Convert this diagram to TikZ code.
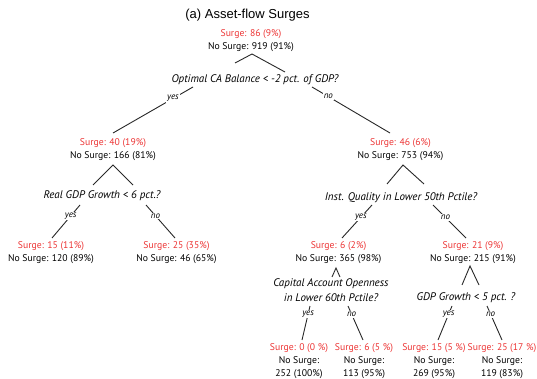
\documentclass[tikz,border=0pt]{standalone}
\usepackage{fontspec}
\setmainfont{PT Sans}
\newfontfamily\titlefont{Liberation Sans}
\usetikzlibrary{calc}
\definecolor{surgered}{RGB}{236,52,52}
\definecolor{linegray}{RGB}{40,40,40}
\tikzset{
  stat/.style={align=center,inner sep=0pt,font=\fontsize{9.7}{12.8}\selectfont},
  quest/.style={align=center,inner sep=0pt,font=\fontsize{11}{15}\selectfont\itshape},
  conn/.style={draw=linegray,line width=0.9pt},
  lab/.style={fill=white,inner sep=1pt,font=\fontsize{9}{9}\selectfont\itshape},
}
\newcommand{\sg}[1]{{\color{surgered}Surge: #1}}
\begin{document}
\begin{tikzpicture}[x=1pt,y=-1pt]
\useasboundingbox (0,0) rectangle (537,379);
\node[font=\titlefont\fontsize{13}{15}\selectfont] (title) at (247.5,15) {(a) Asset-flow Surges};
% nodes
\node[stat] (root) at (251,40.5) {\sg{86 (9\%)}\\No Surge: 919 (91\%)};
\node[quest] (q1) at (255,80) {Optimal CA Balance < -2 pct. of GDP?};
\node[stat] (L) at (113,149.5) {\sg{40 (19\%)}\\No Surge: 166 (81\%)};
\node[stat] (R) at (400.5,149.5) {\sg{46 (6\%)}\\No Surge: 753 (94\%)};
\node[quest] (qL) at (102,196) {Real GDP Growth < 6 pct.?};
\node[quest] (qR) at (401,198) {Inst. Quality in Lower 50th Pctile?};
\node[stat] (LL) at (51,252.5) {\sg{15 (11\%)}\\No Surge: 120 (89\%)};
\node[stat] (LR) at (176.5,252.5) {\sg{25 (35\%)}\\No Surge: 46 (65\%)};
\node[stat] (RL) at (338.5,253) {\sg{6 (2\%)}\\No Surge: 365 (98\%)};
\node[stat] (RR) at (473,253) {\sg{21 (9\%)}\\No Surge: 215 (91\%)};
\node[quest] (qRL) at (331,290.5) {Capital Account Openness\\in Lower 60th Pctile?};
\node[quest] (qRR) at (466,298) {GDP Growth < 5 pct. ?};
\node[stat] (RLL) at (299,361) {\sg{0 (0 \%)}\\No Surge:\\252 (100\%)};
\node[stat] (RLR) at (364,361) {\sg{6 (5 \%)}\\No Surge:\\113 (95\%)};
\node[stat] (RRL) at (434,361) {\sg{15 (5 \%)}\\No Surge:\\269 (95\%)};
\node[stat] (RRR) at (502,361) {\sg{25 (17 \%)}\\No Surge:\\119 (83\%)};
% level 1
\draw[conn] ($(q1)+(-20,-17)$) -- ($(root)+(1,13.5)$) -- ($(q1)+(30,-8)$);
\draw[conn] ($(q1)+(-62,7)$) -- node[lab,pos=0.25] {yes} ($(L)+(0,-16.5)$);
\draw[conn] ($(q1)+(57,7)$) -- node[lab,pos=0.21] {no} ($(R)+(-10.5,-16.5)$);
% left subtree
\draw[conn] ($(qL)+(-9,-11)$) -- ($(L)+(0,15.5)$) -- ($(qL)+(31,-11)$);
\draw[conn] ($(qL)+(-22,9)$) -- node[lab,pos=0.33] {yes} ($(LL)+(1,-14.5)$);
\draw[conn] ($(qL)+(44,9)$) -- node[lab,pos=0.33] {no} ($(LR)+(-1.5,-14.5)$);
% right subtree
\draw[conn] ($(qR)+(-14,-14)$) -- ($(R)+(2.5,15.5)$) -- ($(qR)+(23,-14)$);
\draw[conn] ($(qR)+(-29,7)$) -- node[lab,pos=0.37] {yes} ($(RL)+(3.5,-15)$);
\draw[conn] ($(qR)+(32,7)$) -- node[lab,pos=0.38] {no} ($(RR)+(-7,-15)$);
% right-left
\draw[conn] ($(qRL)+(1,-13.5)$) -- ($(RL)+(-2.5,15)$) -- ($(qRL)+(9,-13.5)$);
\draw[conn] ($(qRL)+(-21,15.5)$) -- node[lab,pos=0.24] {yes} ($(RLL)+(3,-21)$);
\draw[conn] ($(qRL)+(17,15.5)$) -- node[lab,pos=0.24] {no} ($(RLR)+(-1,-21)$);
% right-right
\draw[conn] ($(qRR)+(-4,-13)$) -- ($(RR)+(-3,13)$) -- ($(qRR)+(13,-13)$);
\draw[conn] ($(qRR)+(-14,8)$) -- node[lab,pos=0.24] {yes} ($(RRL)+(4,-21)$);
\draw[conn] ($(qRR)+(21,8)$) -- node[lab,pos=0.24] {no} ($(RRR)+(0,-21)$);
\end{tikzpicture}
\end{document}
